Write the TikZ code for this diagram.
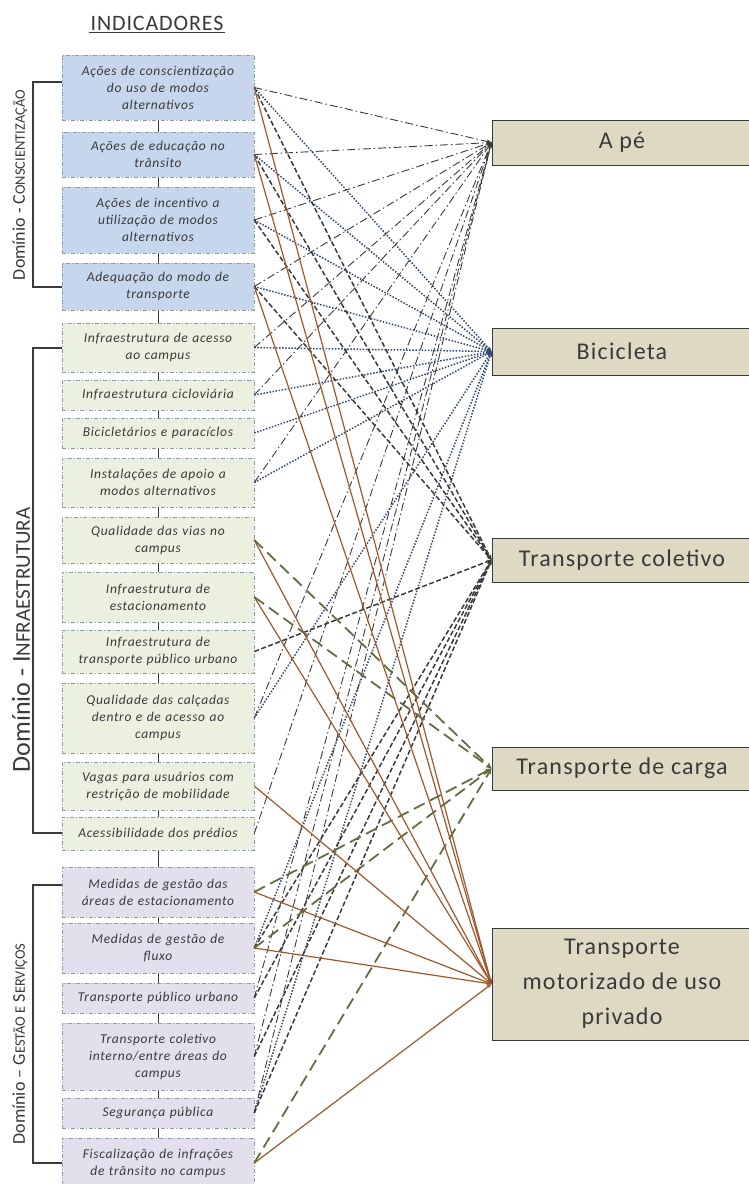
\documentclass[tikz,border=0pt]{standalone}
\usepackage{fontspec}
\setmainfont{Carlito}
\usetikzlibrary{arrows.meta}
\definecolor{bluebox}{HTML}{C6D6EC}
\definecolor{greenbox}{HTML}{EBF1DE}
\definecolor{purplebox}{HTML}{E4DFEC}
\definecolor{tanbox}{HTML}{DDD9C3}
\definecolor{txt}{HTML}{3A3A3A}
\definecolor{dotblue}{HTML}{2F4A78}
\definecolor{olivel}{HTML}{5F7040}
\definecolor{brownl}{HTML}{A0582A}
\definecolor{ddgray}{HTML}{3A3A3A}
\definecolor{boxedge}{HTML}{8A9AAA}
\newcommand\indbox[5]{\node[ind,fill=#2,minimum height={#4-#3}] (#1) at (158,{(#3+#4)/2}) {#5};}
\begin{document}
\begin{tikzpicture}[x=1pt,y=-1pt,
  ind/.style={draw=boxedge, dash pattern=on 4pt off 2pt on 1pt off 2pt, line width=0.5pt,
    minimum width=192pt, text width=190pt, align=center, inner sep=0pt,
    font=\addfontfeature{LetterSpace=5}\fontsize{13.5}{17}\selectfont\itshape, text=txt},
  rbox/.style={draw=ddgray, line width=1pt, fill=tanbox, minimum width=260pt, inner sep=0pt,
    font=\addfontfeature{LetterSpace=5}\fontsize{24}{35}\selectfont, text=txt, align=center},
  link/.style={draw=ddgray, line width=0.8pt},
  brack/.style={draw=ddgray, line width=1.3pt},
  dom/.style={rotate=90, text=txt, inner sep=0pt},
  cape/.style={draw=ddgray, line width=0.9pt, dash pattern=on 8pt off 3pt on 1.5pt off 3pt, -{Stealth[length=5pt,width=4pt]}},
  cbic/.style={draw=dotblue, line width=1.5pt, dash pattern=on 1.5pt off 1.6pt, -{Stealth[length=5pt,width=4pt]}},
  ccol/.style={draw=ddgray, line width=1.5pt, dash pattern=on 5pt off 2.5pt, -{Stealth[length=5pt,width=4pt]}},
  ccar/.style={draw=olivel, line width=1.8pt, dash pattern=on 12pt off 6pt, -{Stealth[length=6pt,width=5pt]}},
  cmot/.style={draw=brownl, line width=1.2pt, -{Stealth[length=5pt,width=4pt]}}
]
\useasboundingbox (0,0) rectangle (748,1184);
% title
\node[font=\addfontfeature{LetterSpace=4}\fontsize{22}{24}\selectfont, text=txt, inner sep=1pt] (title) at (157,23) {INDICADORES};
\draw[ddgray, line width=1.2pt] ([yshift=-1pt]title.south west) -- ([yshift=-1pt]title.south east);
% indicator boxes
\indbox{b1}{bluebox}{55}{120}{Ações de conscientização\\do uso de modos\\alternativos}
\indbox{b2}{bluebox}{132}{177}{Ações de educação no\\trânsito}
\indbox{b3}{bluebox}{187}{253}{Ações de incentivo a\\utilização de modos\\alternativos}
\indbox{b4}{bluebox}{263}{310}{Adequação do modo de\\transporte}
\indbox{b5}{greenbox}{323}{372}{Infraestrutura de acesso\\ao campus}
\indbox{b6}{greenbox}{380}{410}{Infraestrutura cicloviária}
\indbox{b7}{greenbox}{418}{448}{Bicicletários e paracíclos}
\indbox{b8}{greenbox}{458}{507}{Instalações de apoio a\\modos alternativos}
\indbox{b9}{greenbox}{517}{563}{Qualidade das vias no\\campus}
\indbox{b10}{greenbox}{572}{622}{Infraestrutura de\\estacionamento}
\indbox{b11}{greenbox}{630}{673}{Infraestrutura de\\transporte público urbano}
\indbox{b12}{greenbox}{683}{753}{Qualidade das calçadas\\dentro e de acesso ao\\campus}
\indbox{b13}{greenbox}{762}{810}{Vagas para usuários com\\restrição de mobilidade}
\indbox{b14}{greenbox}{817}{850}{Acessibilidade dos prédios}
\indbox{b15}{purplebox}{867}{917}{Medidas de gestão das\\áreas de estacionamento}
\indbox{b16}{purplebox}{923}{973}{Medidas de gestão de\\fluxo}
\indbox{b17}{purplebox}{983}{1013}{Transporte público urbano}
\indbox{b18}{purplebox}{1023}{1090}{Transporte coletivo\\interno/entre áreas do\\campus}
\indbox{b19}{purplebox}{1098}{1128}{Segurança pública}
\indbox{b20}{purplebox}{1138}{1188}{Fiscalização de infrações\\de trânsito no campus}
% links between boxes
\foreach \a/\b in {b1/b2,b2/b3,b3/b4,b4/b5,b5/b6,b6/b7,b7/b8,b8/b9,b9/b10,b10/b11,b11/b12,b12/b13,b13/b14,b14/b15,b15/b16,b16/b17,b17/b18,b18/b19,b19/b20}
  \draw[link] (\a.south) -- (\b.north);
% brackets
\coordinate (k1a) at (33,82);  \coordinate (k1b) at (33,287);
\coordinate (k2a) at (33,348); \coordinate (k2b) at (33,833);
\coordinate (k3a) at (33,885); \coordinate (k3b) at (33,1163);
\draw[brack] (b1.west |- k1a) -- (k1a) -- (k1b) -- (b4.west |- k1b);
\draw[brack] (b5.west |- k2a) -- (k2a) -- (k2b) -- (b14.west |- k2b);
\draw[brack] (b15.west |- k3a) -- (k3a) -- (k3b) -- (b20.west |- k3b);
\node[dom, font=\fontsize{18}{20}\selectfont] (d1) at (20,185) {Domínio - C{\fontsize{14.5}{16}\selectfont ONSCIENTIZAÇÃO}};
\node[dom, font=\fontsize{26}{28}\selectfont] (d2) at (21,640) {Domínio - I{\fontsize{21}{23}\selectfont NFRAESTRUTURA}};
\node[dom, font=\fontsize{18}{20}\selectfont] (d3) at (20,1044) {Domínio – G{\fontsize{14.5}{16}\selectfont ESTÃO E} S{\fontsize{14.5}{16}\selectfont ERVIÇOS}};
% mode boxes
\node[rbox, minimum height=45pt] (ape) at (622,142.5) {A pé};
\node[rbox, minimum height=47pt] (bic) at (622,351.5) {Bicicleta};
\node[rbox, minimum height=44pt] (col) at (622,560) {Transporte coletivo};
\node[rbox, minimum height=43pt] (car) at (622,768.5) {Transporte de carga};
\node[rbox, minimum height=112pt] (mot) at (622,984) {Transporte\\motorizado de uso\\privado};
% connectors
\foreach \s in {b1,b2,b3,b4,b5,b6,b8,b12,b14,b17,b18,b19}
  \draw[cape] (\s.east) -- (ape.west);
\foreach \s in {b1,b2,b3,b4,b5,b6,b7,b8,b12,b16,b19}
  \draw[cbic] (\s.east) -- (bic.west);
\foreach \s in {b1,b2,b3,b4,b11,b16,b17,b18,b19}
  \draw[ccol] (\s.east) -- (col.west);
\foreach \s in {b9,b10,b15,b16,b20}
  \draw[ccar] (\s.east) -- (car.west);
\foreach \s in {b1,b2,b4,b9,b10,b13,b15,b16,b20}
  \draw[cmot] (\s.east) -- (mot.west);
\end{tikzpicture}
\end{document}
